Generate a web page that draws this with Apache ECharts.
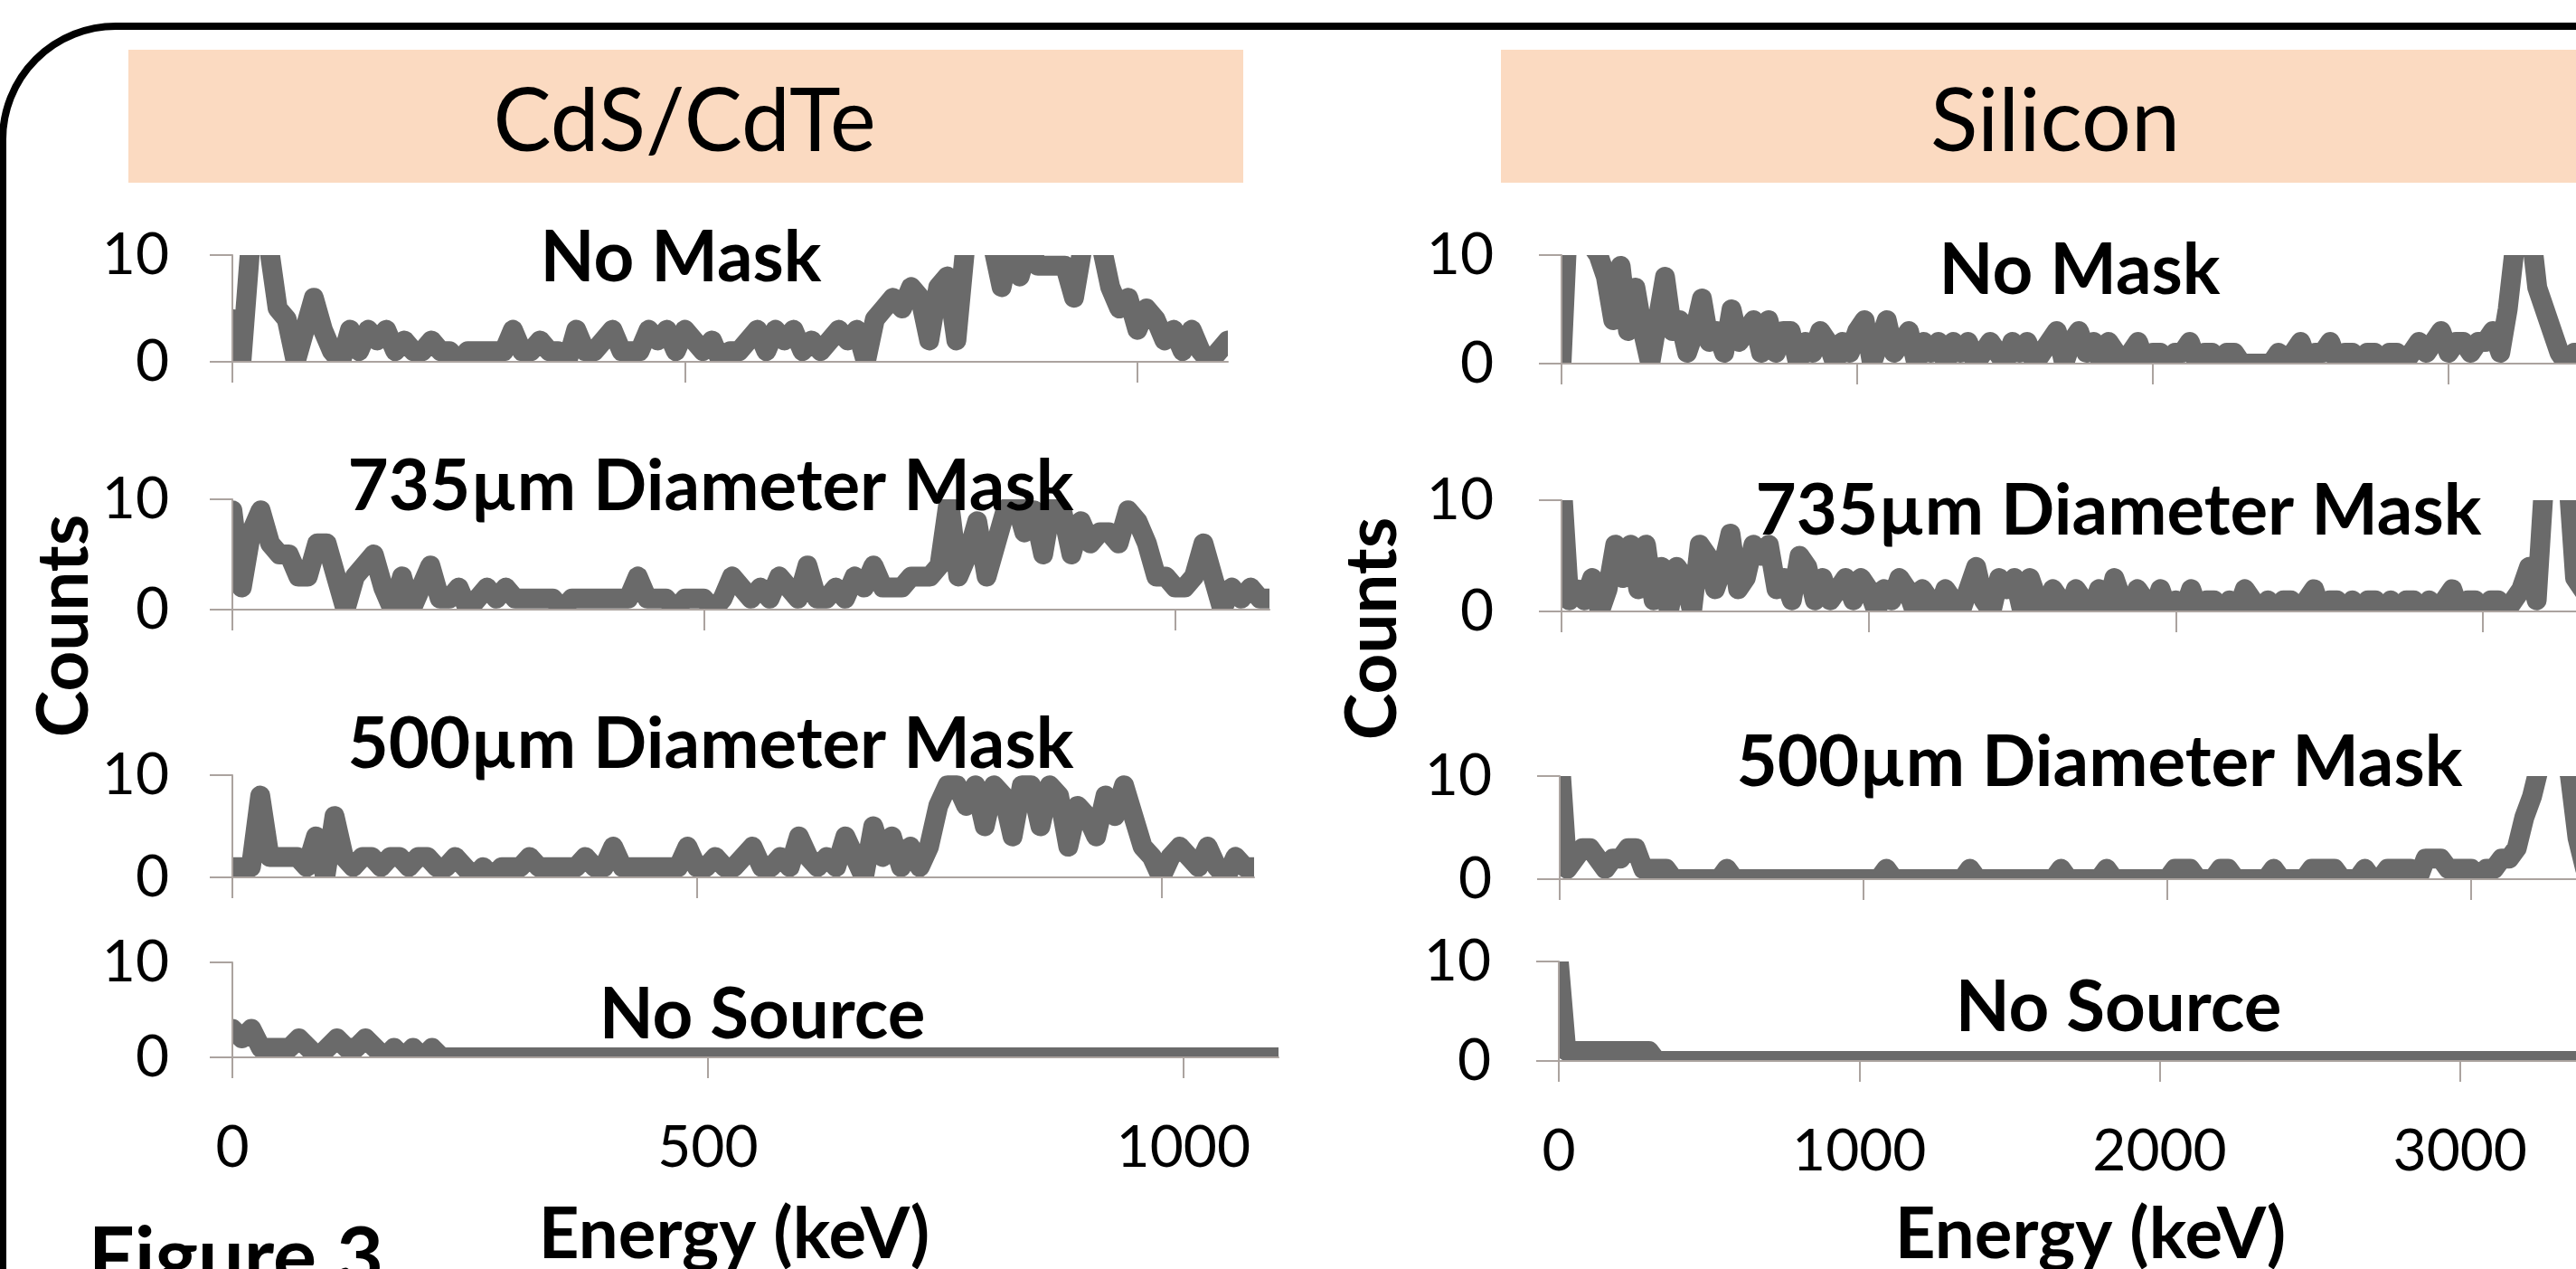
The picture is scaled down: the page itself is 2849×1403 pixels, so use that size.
<!DOCTYPE html>
<html><head><meta charset="utf-8">
<script src="https://cdn.jsdelivr.net/npm/echarts@6/dist/echarts.min.js"></script>
<style>html,body{margin:0;padding:0;background:#fff}#c{width:2849px;height:1403px}</style>
</head><body><div id="c"></div>
<script>
// ---------- DATA ----------
const panelTitles = ['CdS/CdTe', 'Silicon'];
const plotTitles = ['No Mask', '735µm Diameter Mask', '500µm Diameter Mask', 'No Source'];
const xAxisTitle = 'Energy (keV)';
const yAxisTitle = 'Counts';
const figureLabel = 'Figure 3';
const cdTicks = [0, 500, 1000];
const siTicks = [0, 1000, 2000, 3000];

const cdEnergy = [0,10,20,30,40,50,60,70,80,90,100,110,120,130,140,150,160,170,180,190,200,210,220,230,240,250,260,270,280,290,300,310,320,330,340,350,360,370,380,390,400,410,420,430,440,450,460,470,480,490,500,510,520,530,540,550,560,570,580,590,600,610,620,630,640,650,660,670,680,690,700,710,720,730,740,750,760,770,780,790,800,810,820,830,840,850,860,870,880,890,900,910,920,930,940,950,960,970,980,990,1000,1010,1020,1030,1040,1050,1060,1070,1080,1090,1100];
const cdNoMask = [4,0,11,11,11,5,4,0,3,6,
 3,1,0,3,1,3,2,3,1,2,
 1,1,2,1,1,0,1,1,1,1,
 1,3,1,1,2,1,1,0,3,1,
 1,2,3,1,1,1,3,2,3,1,
 3,2,1,2,0,1,1,2,3,1,
 3,2,3,1,2,1,2,3,2,3,
 0,4,5,6,5,7,6,2,7,8,
 2,11,11,11,11,7,11,8,11,9,
 9,9,9,6,11,11,11,7,5,6,
 3,5,4,2,3,1,3,1,0,1,
 2];
const cdMask735 = [9,2,7,9,6,5,5,3,3,6,
 6,3,0,3,4,5,2,0,3,0,
 2,4,1,1,2,0,1,2,1,2,
 1,1,1,1,1,0,1,1,1,1,
 1,1,1,3,1,1,1,0,1,1,
 1,0,1,3,2,1,2,1,3,2,
 1,4,1,1,2,1,3,2,4,2,
 2,2,3,3,3,4,10,3,5,8,
 3,6,9,10,7,9,5,10,9,5,
 8,6,7,7,6,9,8,6,3,3,
 2,2,3,6,3,0,2,1,2,1,
 1];
const cdMask500 = [1,1,1,8,2,2,2,2,1,4,
 0,6,2,1,2,2,1,2,2,1,
 2,2,1,1,2,1,0,1,0,1,
 1,1,2,1,1,1,1,1,2,1,
 1,3,1,1,1,1,1,1,1,3,
 1,1,2,1,1,2,3,1,1,2,
 1,4,2,1,2,1,4,2,0,5,
 2,4,1,3,1,3,7,9,9,7,
 9,5,9,8,4,9,9,5,9,8,
 3,7,6,4,8,6,9,6,3,2,
 0,2,3,2,1,3,1,0,2,1,
 1];
const cdNoSource = [3,2,3,1,1,1,1,2,1,0,
 1,2,1,1,2,1,0,1,0,1,
 0,1,0,0,0,0,0,0,0,0,
 0,0,0,0,0,0,0,0,0,0,
 0,0,0,0,0,0,0,0,0,0,
 0,0,0,0,0,0,0,0,0,0,
 0,0,0,0,0,0,0,0,0,0,
 0,0,0,0,0,0,0,0,0,0,
 0,0,0,0,0,0,0,0,0,0,
 0,0,0,0,0,0,0,0,0,0,
 0,0,0,0,0,0,0,0,0,0,
 0];

const siEnergy = [0,25,50,75,100,125,150,175,200,225,
 250,275,300,325,350,375,400,425,450,475,
 500,525,550,575,600,625,650,675,700,725,
 750,775,800,825,850,875,900,925,950,975,
 1000,1025,1050,1075,1100,1125,1150,1175,1200,1225,
 1250,1275,1300,1325,1350,1375,1400,1425,1450,1475,
 1500,1525,1550,1575,1600,1625,1650,1675,1700,1725,
 1750,1775,1800,1825,1850,1875,1900,1925,1950,1975,
 2000,2025,2050,2075,2100,2125,2150,2175,2200,2225,
 2250,2275,2300,2325,2350,2375,2400,2425,2450,2475,
 2500,2525,2550,2575,2600,2625,2650,2675,2700,2725,
 2750,2775,2800,2825,2850,2875,2900,2925,2950,2975,
 3000,3025,3050,3075,3100,3125,3150,3175,3200,3225,
 3250,3275,3300,3325,3350,3375,3400,3425,3450];
const siNoMask = [0,15,14,12,11,10,8,4,9,3,
 7,3,0,4,8,3,4,1,3,6,
 2,3,1,5,2,3,4,1,4,1,
 3,3,0,2,1,3,2,0,2,1,
 3,4,0,2,4,1,2,3,0,2,
 1,2,0,2,1,2,0,1,2,1,
 0,2,1,2,0,1,2,3,0,2,
 3,1,2,0,2,1,0,1,2,0,
 1,1,0,1,1,2,0,1,1,0,
 1,1,0,0,0,0,0,1,0,1,
 2,0,1,1,2,0,1,1,0,1,
 1,0,1,1,0,1,2,1,2,3,
 1,2,2,1,2,2,3,1,5,11,
 15,13,7,5,3,1,0,1,1];
const siMask735 = [12,1,2,1,3,0,2,6,3,6,
 2,6,1,4,0,4,3,0,6,5,
 2,4,7,2,3,6,5,6,2,3,
 1,5,4,1,3,1,2,3,1,3,
 2,0,2,1,3,2,0,2,1,0,
 2,1,0,2,4,1,0,3,2,3,
 0,3,1,0,2,1,0,2,1,0,
 2,0,3,1,0,2,1,0,2,0,
 1,0,2,0,1,1,0,1,0,2,
 1,0,1,0,1,1,0,1,2,0,
 1,1,0,1,0,1,1,0,1,0,
 1,1,0,1,0,1,2,0,1,1,
 0,1,1,0,1,2,4,1,12,15,
 15,13,3,2,1,1,1,1,1];
const siMask500 = [12,1,2,3,3,2,1,2,2,3,
 3,1,1,1,1,0,0,0,0,0,
 0,0,1,0,0,0,0,0,0,0,
 0,0,0,0,0,0,0,0,0,0,
 0,0,0,1,0,0,0,0,0,0,
 0,0,0,0,1,0,0,0,0,0,
 0,0,0,0,0,0,1,0,0,0,
 0,0,1,0,0,0,0,0,0,0,
 0,1,1,1,0,0,0,1,1,0,
 0,0,0,0,1,0,0,0,0,1,
 1,1,1,0,0,0,1,0,0,1,
 1,1,1,0,2,2,2,1,1,1,
 1,0,1,1,2,2,3,6,8,11,
 14,14,13,10,4,1,0,0,0];
const siNoSource = [10,1,1,1,1,1,1,1,1,1,
 1,1,1,0,0,0,0,0,0,0,
 0,0,0,0,0,0,0,0,0,0,
 0,0,0,0,0,0,0,0,0,0,
 0,0,0,0,0,0,0,0,0,0,
 0,0,0,0,0,0,0,0,0,0,
 0,0,0,0,0,0,0,0,0,0,
 0,0,0,0,0,0,0,0,0,0,
 0,0,0,0,0,0,0,0,0,0,
 0,0,0,0,0,0,0,0,0,0,
 0,0,0,0,0,0,0,0,0,0,
 0,0,0,0,0,0,0,0,0,0,
 0,0,0,0,0,0,0,0,0,0,
 0,0,0,0,0,0,0,0,0];

// ---------- LAYOUT / STYLE ----------
const FONT = 'Lato';
const LINE = '#6a6a6a';
const AXIS = '#aba39f';
const LW = 22;
// plot areas; the Silicon plots run past the right edge of the page, so their
// visible axis end (xMax) is what fits inside the page at each plot's own scale
const grids = [
  {left: 257, top: 282, width: 1101, height: 118, xMax: 1100},
  {left: 257, top: 552, width: 1147, height: 122, xMax: 1100},
  {left: 257, top: 857, width: 1130, height: 113, xMax: 1100},
  {left: 257, top: 1064, width: 1157, height: 105, xMax: 1100},
  {left: 1727, top: 282, width: 1122, height: 120, xMax: 3431},
  {left: 1727, top: 553, width: 1122, height: 123, xMax: 3303},
  {left: 1725, top: 858, width: 1124, height: 114, xMax: 3345},
  {left: 1724, top: 1063, width: 1125, height: 110, xMax: 3386}
];
const seriesSets = [
  [cdEnergy, cdNoMask], [cdEnergy, cdMask735], [cdEnergy, cdMask500], [cdEnergy, cdNoSource],
  [siEnergy, siNoMask], [siEnergy, siMask735], [siEnergy, siMask500], [siEnergy, siNoSource]
];
const titlePos = [[753, 286], [786, 539], [786, 824], [843, 1123], [2300, 300], [2343, 566], [2322, 844], [2343, 1115]];

const pairs = (xs, ys) => ys.map((v, i) => [xs[i], v]);

const xAxes = grids.map((g, i) => {
  const ticks = i < 4 ? cdTicks : siTicks;
  return {
    gridIndex: i, type: 'value', min: 0, max: g.xMax, z: 10,
    axisLine: {show: true, onZero: false, lineStyle: {color: AXIS, width: 2}},
    axisTick: {show: true, length: 23, customValues: ticks, lineStyle: {color: AXIS, width: 2}},
    axisLabel: {show: i === 3 || i === 7, customValues: ticks, color: '#000', fontFamily: FONT, fontSize: 64, margin: 68,
      formatter: v => String(v)},
    splitLine: {show: false}
  };
});
const yAxes = grids.map((g, i) => ({
  gridIndex: i, type: 'value', min: 0, max: 10, interval: 10, z: 10,
  axisLine: {show: true, lineStyle: {color: AXIS, width: 2}},
  axisTick: {show: true, length: 25, lineStyle: {color: AXIS, width: 2}},
  axisLabel: {color: '#000', fontFamily: FONT, fontSize: 64, margin: i < 4 ? 70 : 75, padding: [12, 0, 0, 0]},
  splitLine: {show: false}
}));
const series = seriesSets.map((s, i) => ({
  type: 'line', xAxisIndex: i, yAxisIndex: i, data: pairs(s[0], s[1]),
  showSymbol: false, symbol: 'none', clip: true, z: 2, silent: true,
  lineStyle: {color: LINE, width: LW, join: 'round', cap: 'round'}
}));

const graphics = [];
// frame
graphics.push({type: 'rect', z: 1, shape: {x: 3, y: 29, width: 3300, height: 2200, r: 125}, style: {fill: 'none', stroke: '#000', lineWidth: 8}});
// headers
graphics.push({type: 'rect', z: 1, shape: {x: 142, y: 55, width: 1233, height: 147}, style: {fill: '#fbdac1'}});
graphics.push({type: 'rect', z: 1, shape: {x: 1660, y: 55, width: 1400, height: 147}, style: {fill: '#fbdac1'}});
graphics.push({type: 'text', z: 20, x: 757, y: 136, style: {text: panelTitles[0], fill: '#000', font: 'normal 96px ' + FONT, align: 'center', verticalAlign: 'middle'}});
graphics.push({type: 'text', z: 20, x: 2273, y: 136, style: {text: panelTitles[1], fill: '#000', font: 'normal 97px ' + FONT, align: 'center', verticalAlign: 'middle'}});
// white masks so the thick lines are cut exactly at the plot area edges
grids.forEach(g => {
  const m = 14;
  [[g.left - m, g.top - m, g.width + 2 * m, m], [g.left - m, g.top + g.height, g.width + 2 * m, m],
   [g.left - m, g.top - m, m, g.height + 2 * m], [g.left + g.width, g.top - m, m, g.height + 2 * m]].forEach(r => {
    graphics.push({type: 'rect', z: 5, silent: true, shape: {x: r[0], y: r[1], width: r[2], height: r[3]}, style: {fill: '#fff'}});
  });
});
// subplot titles
titlePos.forEach((p, i) => {
  graphics.push({type: 'text', z: 20, x: p[0], y: p[1], style: {text: plotTitles[i % 4], fill: '#000', font: 'bold 78px ' + FONT, align: 'center', verticalAlign: 'middle'}});
});
// axis titles
[[72, 692], [1519, 695]].forEach(p => {
  graphics.push({type: 'text', z: 20, x: p[0], y: p[1], rotation: Math.PI / 2, style: {text: yAxisTitle, fill: '#000', font: 'bold 78px ' + FONT, align: 'center', verticalAlign: 'middle'}});
});
[[812, 1366], [2312, 1366]].forEach(p => {
  graphics.push({type: 'text', z: 20, x: p[0], y: p[1], style: {text: xAxisTitle, fill: '#000', font: 'bold 78px ' + FONT, align: 'center', verticalAlign: 'middle'}});
});
graphics.push({type: 'text', z: 20, x: 261, y: 1392, style: {text: figureLabel, fill: '#000', font: 'bold 90px ' + FONT, align: 'center', verticalAlign: 'middle'}});

const chart = echarts.init(document.getElementById('c'), null, {renderer: 'canvas'});
chart.setOption({
  animation: false,
  backgroundColor: '#ffffff',
  grid: grids.map(g => ({left: g.left, top: g.top, width: g.width, height: g.height, containLabel: false})),
  xAxis: xAxes,
  yAxis: yAxes,
  series: series,
  graphic: graphics
});
</script>
</body></html>
